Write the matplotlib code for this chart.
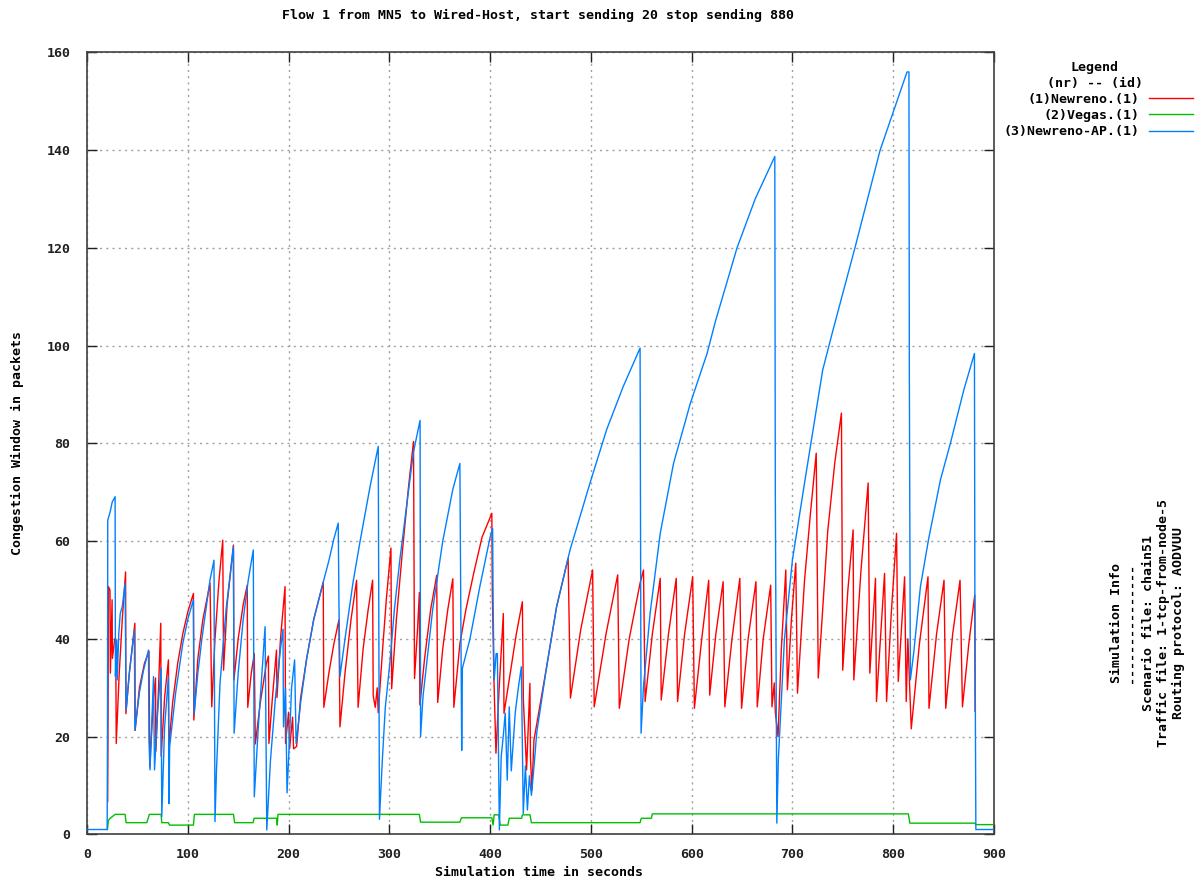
import matplotlib
matplotlib.use("Agg")
import matplotlib.pyplot as plt

# ---- congestion window traces (time in s, cwnd in packets) ----
newreno_t = [20.5, 20.8, 21.3, 22.8, 23.2, 24.9, 25.2, 27.5, 28.5, 29.0, 32.0, 35.0, 38.3, 38.6,
             42.0, 47.5, 47.8, 52.0, 57.0, 61.5, 62.3, 66.0, 68.0, 68.3, 71.0, 73.2, 73.6, 77.0,
             80.8, 81.2, 85.0, 90.0, 95.0, 100.0, 105.6, 106.0, 110.0, 115.0, 122.1, 123.8, 127.0,
             131.0, 134.7, 135.5, 139.0, 145.3, 145.8, 150.0, 155.0, 159.0, 159.5, 163.0, 166.0,
             167.0, 172.0, 178.0, 180.0, 180.5, 184.0, 188.0, 188.5, 192.0, 196.5, 197.0, 200.0,
             201.0, 204.0, 205.0, 208.0, 212.0, 218.0, 225.0, 234.4, 235.0, 240.0, 245.0, 250.0,
             251.0, 256.0, 262.0, 267.5, 269.0, 274.0, 279.0, 283.4, 284.0, 286.0, 288.0, 289.0,
             293.0, 297.0, 301.6, 302.3, 307.0, 313.0, 319.0, 324.0, 325.0, 328.0, 329.8, 330.3,
             335.0, 341.0, 347.0, 348.0, 353.0, 358.0, 363.0, 364.0, 370.0, 376.0, 384.0, 392.0,
             401.7, 402.2, 403.8, 405.8, 409.0, 413.1, 413.8, 420.0, 426.0, 432.0, 433.0, 436.2,
             439.5, 440.0, 441.5, 443.5, 450.0, 456.1, 466.0, 477.4, 478.5, 479.7, 490.0, 501.7,
             503.3, 515.0, 526.6, 528.2, 538.0, 548.8, 552.2, 553.8, 561.0, 568.8, 569.8, 577.0,
             584.7, 586.0, 593.0, 601.0, 602.7, 610.0, 616.9, 617.9, 624.0, 631.2, 632.9, 640.0,
             647.8, 649.5, 656.0, 663.8, 665.1, 671.0, 678.4, 679.7, 682.0, 683.0, 685.7, 689.0,
             693.4, 695.0, 699.0, 703.3, 705.0, 712.0, 718.0, 723.6, 725.6, 735.0, 742.0, 748.6,
             749.9, 755.0, 760.2, 760.9, 768.0, 775.1, 776.8, 782.4, 783.4, 791.4, 793.4, 798.0,
             803.3, 805.0, 811.3, 812.9, 814.5, 817.9, 826.0, 834.5, 835.5, 843.0, 850.4, 852.1,
             859.0, 866.3, 868.7, 875.0, 880.9, 881.2]
newreno_w = [6.7, 19.0, 50.7, 50.0, 33.0, 48.0, 36.0, 40.0, 40.0, 18.6, 33.0, 44.0, 53.7, 24.7,
             33.0, 43.2, 21.3, 30.0, 35.0, 37.5, 13.8, 28.0, 32.0, 17.0, 30.0, 43.2, 16.0, 28.0,
             35.7, 17.9, 27.0, 35.0, 41.0, 45.5, 49.3, 23.4, 36.0, 44.0, 51.4, 26.1, 40.0,
             52.0, 60.2, 33.6, 47.0, 59.2, 31.6, 40.0, 47.0, 51.0, 26.0, 33.0, 37.0,
             18.5, 27.0, 35.0, 36.5, 18.6, 28.0, 37.7, 28.0, 40.0, 50.7, 18.6, 25.0,
             17.5, 24.0, 17.5, 18.0, 28.0, 36.0, 44.0, 51.6, 26.0, 33.0, 39.0, 43.9,
             22.0, 33.0, 44.0, 52.0, 26.0, 38.0, 46.0, 52.0, 28.4, 26.0, 30.0, 24.9,
             37.0, 48.0, 58.6, 29.8, 44.0, 58.0, 71.0, 80.4, 31.9, 42.0, 49.5, 26.5,
             36.0, 46.0, 53.0, 27.0, 38.0, 46.0, 52.3, 26.0, 39.0, 46.0, 53.7, 60.8,
             65.7, 49.3, 31.6, 16.6, 30.0, 45.2, 24.8, 33.0, 41.0, 47.6, 27.5, 13.2,
             30.9, 15.9, 9.0, 19.3, 27.0, 34.3, 46.6, 56.5, 42.5, 27.9, 42.0, 54.1,
             26.1, 41.0, 53.1, 25.8, 40.0, 51.4, 54.1, 27.2, 41.0, 52.4, 27.5, 41.0,
             52.4, 27.2, 41.0, 52.7, 25.8, 40.0, 52.0, 28.5, 41.0, 51.7, 26.1, 40.0,
             52.4, 25.8, 40.0, 51.7, 26.1, 40.0, 51.0, 26.1, 31.0, 25.0, 20.0, 38.0,
             54.1, 29.6, 44.0, 55.5, 28.9, 52.0, 66.0, 78.0, 32.0, 62.0, 76.0, 86.2,
             33.6, 50.0, 62.3, 31.6, 54.0, 71.9, 33.0, 52.4, 27.2, 53.4, 27.2, 45.0,
             61.6, 31.3, 52.7, 27.2, 40.0, 21.6, 39.0, 52.7, 25.8, 41.0, 52.0, 25.8,
             41.0, 52.0, 26.1, 39.0, 49.0, 25.2]

vegas_t = [20.3, 21.3, 23.0, 27.9, 37.8, 38.8, 59.3, 61.9, 73.5, 74.2, 80.8, 81.8, 105.6, 106.6,
           145.3, 146.5, 164.8, 165.8, 188.2, 188.8, 189.5, 329.8, 331.0, 370.0, 371.5, 401.7,
           403.0, 404.0, 408.5, 410.0, 417.6, 419.0, 431.3, 432.0, 439.6, 441.0, 548.8, 550.0,
           560.0, 561.0, 815.0, 816.5, 881.0, 882.0, 899.0]
vegas_w = [1.0, 2.9, 3.3, 4.1, 4.1, 2.4, 2.4, 4.1, 4.1, 2.4, 2.4, 1.9, 1.9, 4.1,
           4.1, 2.4, 2.4, 3.3, 3.3, 1.9, 4.1, 4.1, 2.5, 2.5, 3.4, 3.4,
           1.9, 4.0, 4.0, 1.9, 1.9, 3.3, 3.3, 4.0, 4.0, 2.4, 2.4, 3.3,
           3.3, 4.2, 4.2, 2.3, 2.3, 2.0, 2.0]

newreno_ap_t = [0.0, 20.0, 20.3, 20.6, 23.0, 25.0, 27.9, 28.2, 29.5, 30.0, 31.5, 33.0, 35.0, 37.8,
                38.8, 42.0, 47.0, 47.5, 52.0, 56.0, 61.0, 61.5, 62.5, 66.0, 67.0, 70.0, 73.5, 74.2,
                77.0, 80.8, 81.4, 82.0, 88.0, 95.0, 100.0, 105.6, 106.3, 110.0, 114.0, 118.0, 122.0,
                126.0, 127.0, 128.5, 132.0, 138.0, 145.3, 146.0, 150.0, 155.0, 160.0, 165.0, 166.0,
                170.0, 176.7, 178.4, 182.0, 187.0, 192.0, 194.5, 195.0, 197.0, 198.5, 201.0, 203.0,
                206.0, 207.5, 212.0, 218.0, 225.0, 234.4, 240.0, 245.0, 249.3, 250.0, 251.0, 256.0,
                264.0, 271.0, 281.0, 289.0, 289.6, 290.2, 293.0, 296.0, 300.7, 305.0, 310.6, 317.0,
                324.0, 330.5, 331.0, 333.5, 343.0, 353.0, 363.0, 370.0, 371.8, 372.5, 380.0, 390.0,
                400.0, 402.5, 403.0, 404.0, 406.0, 407.2, 409.2, 411.0, 413.0, 415.0, 417.0, 419.0,
                421.0, 425.0, 428.0, 431.0, 432.9, 435.0, 437.0, 439.0, 441.0, 444.0, 446.2, 456.1,
                466.0, 479.3, 499.0, 515.6, 532.0, 548.8, 549.3, 549.8, 552.2, 558.8, 568.8, 582.0,
                598.7, 615.3, 623.6, 645.0, 663.0, 682.5, 683.0, 684.5, 686.0, 692.0, 700.0, 713.0,
                730.0, 740.0, 762.0, 787.0, 813.7, 815.6, 816.0, 817.0, 820.3, 827.0, 835.0, 846.8,
                856.7, 870.0, 880.6, 881.0, 882.0, 899.0]
newreno_ap_w = [1.0, 1.0, 19.0, 64.3, 66.0, 68.0, 69.1, 32.3, 39.8, 31.6, 41.0, 45.2, 46.6, 51.4,
                25.4, 33.0, 41.8, 21.3, 29.0, 33.5, 37.7, 19.3, 13.2, 32.3, 13.2, 25.0, 34.0, 3.6,
                22.0, 32.3, 6.3, 17.9, 29.0, 39.0, 44.0, 48.0, 24.7, 33.0, 40.0, 46.0, 52.0,
                56.1, 2.6, 13.2, 31.0, 46.0, 58.9, 20.7, 33.0, 44.0, 52.0, 58.2, 7.7,
                22.0, 42.5, 0.9, 15.0, 28.0, 38.0, 42.0, 22.0, 30.0, 8.5, 20.0, 30.0,
                35.7, 18.6, 27.0, 36.0, 44.0, 51.6, 56.0, 60.5, 63.7, 47.4, 32.3, 40.0,
                51.6, 60.0, 71.3, 79.4, 42.0, 3.1, 15.0, 26.0, 35.4, 46.0, 56.5, 67.0,
                78.3, 84.7, 20.0, 28.4, 46.0, 60.0, 70.6, 75.9, 17.2, 34.0, 40.0, 50.9,
                60.8, 62.6, 46.6, 31.6, 37.0, 37.0, 0.9, 15.9, 20.0, 24.8, 11.1, 26.1,
                13.0, 25.0, 30.0, 34.3, 4.3, 14.0, 5.0, 12.0, 8.0, 15.0, 20.7, 34.3,
                46.6, 58.2, 71.8, 82.8, 91.6, 99.5, 60.3, 20.7, 30.3, 45.3, 61.6, 75.9,
                88.2, 98.4, 105.0, 120.0, 130.0, 138.7, 70.5, 2.3, 15.3, 39.8, 56.2, 73.2,
                95.0, 103.0, 120.0, 140.0, 156.0, 156.0, 94.3, 31.6, 37.1, 50.7, 60.3, 72.5,
                80.0, 90.9, 98.4, 49.7, 1.0, 1.0]

series_labels = ["(1)Newreno.(1)", "(2)Vegas.(1)", "(3)Newreno-AP.(1)"]
series_colors = ["#ff0000", "#00c000", "#0080ff"]

x_ticks = list(range(0, 901, 100))
y_ticks = list(range(0, 161, 20))

title_text = "Flow 1 from MN5 to Wired-Host, start sending 20 stop sending 880"
x_label = "Simulation time in seconds"
y_label = "Congestion Window in packets"
info_lines = ["Simulation Info", "---------------", "Scenario file: chain51",
              "Traffic file: 1-tcp-from-node-5", "Routing protocol: AODVUU"]

# ---- figure ----
W, H = 1195, 882
fig = plt.figure(figsize=(W / 100, H / 100), dpi=100)
fig.patch.set_facecolor("white")

font = dict(family="DejaVu Sans Mono", weight="bold", size=9.5)


def fx(px):
    return px / W


def fy(py):
    return 1 - py / H


left, right, top, bottom = 87, 994, 52.4, 834.4
ax = fig.add_axes([fx(left), fy(bottom), fx(right - left), (bottom - top) / H])

lw = 1.0
ax.plot(newreno_t, newreno_w, color=series_colors[0], lw=lw, zorder=3)
ax.plot(vegas_t, vegas_w, color=series_colors[1], lw=lw, zorder=4)
ax.plot(newreno_ap_t, newreno_ap_w, color=series_colors[2], lw=lw, zorder=5)

ax.set_xlim(0, 900)
ax.set_ylim(0, 160)
ax.set_xticks(x_ticks)
ax.set_yticks(y_ticks)
ax.set_xticklabels([str(v) for v in x_ticks], **font)
ax.set_yticklabels([str(v) for v in y_ticks], **font)
ax.tick_params(direction="in", length=7, width=1, top=True, right=True,
               colors="#202020")
ax.tick_params(axis="x", pad=10)
ax.tick_params(axis="y", pad=12)
ax.grid(True, color="#a0a0a0", linestyle=(0, (1.5, 3)), linewidth=1)
for s in ax.spines.values():
    s.set_color("#404040")
    s.set_linewidth(1.2)

# ---- texts ----
fig.text(fx(538), fy(15), title_text, ha="center", va="center", **font)
fig.text(fx(539), fy(873), x_label, ha="center", va="center", **font)
fig.text(fx(17), fy(443), y_label, ha="center", va="center", rotation=90, **font)

# legend block
fig.text(fx(1094), fy(68), "Legend", ha="center", va="center", **font)
fig.text(fx(1095), fy(83), "(nr) -- (id)", ha="center", va="center", **font)
for i, (lab, col) in enumerate(zip(series_labels, series_colors)):
    yy = 99 + 16.3 * i
    fig.text(fx(1139), fy(yy), lab, ha="right", va="center", **font)
    fig.add_artist(plt.Line2D([fx(1149), fx(1193)], [fy(yy - 1), fy(yy - 1)],
                              color=col, lw=1.0, transform=fig.transFigure))

# simulation info column
for i, line in enumerate(info_lines):
    xx = [1117, 1131, 1148, 1163, 1178][i]
    fig.text(fx(xx), fy(623), line, ha="center", va="center", rotation=90, **font)

fig.savefig("out.png", dpi=100, facecolor="white")
